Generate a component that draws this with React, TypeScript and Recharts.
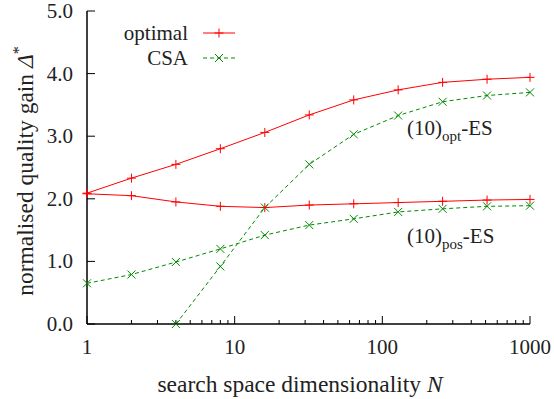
import React from 'react';
import { LineChart, Line, XAxis, YAxis } from 'recharts';

// search space dimensionality N and normalised quality gain values
const DIMS = [1, 2, 4, 8, 16, 32, 64, 128, 256, 512, 1000];
const OPT_OPTIMAL = [2.09, 2.33, 2.55, 2.8, 3.06, 3.34, 3.58, 3.74, 3.86, 3.91, 3.94];
const OPT_CSA_DIMS = [4, 8, 16, 32, 64, 128, 256, 512, 1000];
const OPT_CSA = [0.0, 0.92, 1.86, 2.55, 3.03, 3.33, 3.55, 3.65, 3.7];
const POS_OPTIMAL = [2.08, 2.05, 1.95, 1.88, 1.86, 1.9, 1.92, 1.94, 1.96, 1.98, 1.99];
const POS_CSA = [0.65, 0.79, 0.99, 1.2, 1.42, 1.58, 1.68, 1.79, 1.84, 1.88, 1.89];

const X_MAJOR = [1, 10, 100, 1000];
const X_MINOR_STEPS = [2, 3, 4, 5, 6, 7, 8, 9];
const Y_TICKS = [0, 1, 2, 3, 4, 5];

const RED = '#ff0000';
const GREEN = '#008a00';
const FONT = '"Liberation Serif", "DejaVu Serif", serif';
const FS = 21;
const TITLE_FS = 23.5;

const xTicks: number[] = [];
X_MAJOR.forEach((d, i) => {
  xTicks.push(d);
  if (i < X_MAJOR.length - 1) X_MINOR_STEPS.forEach((m) => xTicks.push(d * m));
});

const toRows = (xs: number[], ys: number[]) => xs.map((n, i) => ({ n, g: ys[i] }));

const optOptimal = toRows(DIMS, OPT_OPTIMAL);
const optCsa = toRows(OPT_CSA_DIMS, OPT_CSA);
const posOptimal = toRows(DIMS, POS_OPTIMAL);
const posCsa = toRows(DIMS, POS_CSA);

const PlusDot = (props: any) => {
  const { cx, cy } = props;
  if (cx == null || cy == null) return null;
  return <path d={`M${cx - 4.5},${cy}H${cx + 4.5}M${cx},${cy - 4.5}V${cy + 4.5}`} stroke={RED} strokeWidth={1} fill="none" />;
};

const CrossDot = (props: any) => {
  const { cx, cy } = props;
  if (cx == null || cy == null) return null;
  return <path d={`M${cx - 4},${cy - 4}L${cx + 4},${cy + 4}M${cx + 4},${cy - 4}L${cx - 4},${cy + 4}`} stroke={GREEN} strokeWidth={1} fill="none" />;
};

const BottomTick = (props: any) => {
  const { x, y, payload } = props;
  const major = X_MAJOR.includes(payload.value);
  return (
    <g>
      <line x1={x} x2={x} y1={y} y2={y - (major ? 8 : 4)} stroke="#000" />
      {major && (
        <text x={x} y={y + 30} textAnchor="middle" fontFamily={FONT} fontSize={FS} fill="#222">
          {payload.value}
        </text>
      )}
    </g>
  );
};

const TopTick = (props: any) => {
  const { x, y, payload } = props;
  const major = X_MAJOR.includes(payload.value);
  return <line x1={x} x2={x} y1={y} y2={y + (major ? 8 : 4)} stroke="#000" />;
};

const LeftTick = (props: any) => {
  const { x, y, payload } = props;
  return (
    <g>
      <line x1={x} x2={x + 8} y1={y} y2={y} stroke="#000" />
      <text x={x - 14} y={y + 7} textAnchor="end" fontFamily={FONT} fontSize={FS} fill="#222">
        {payload.value.toFixed(1)}
      </text>
    </g>
  );
};

const RightTick = (props: any) => {
  const { x, y } = props;
  return <line x1={x} x2={x - 8} y1={y} y2={y} stroke="#000" />;
};

const App: React.FC = () => {
  return (
    <div style={{ position: 'absolute', left: 0, top: 0, width: 554, height: 399, background: '#fff' }}>
      <LineChart width={554} height={399} margin={{ top: 11, right: 24, left: 0, bottom: 0 }}>
        <XAxis
          dataKey="n"
          type="number"
          scale="log"
          domain={[1, 1000]}
          ticks={xTicks}
          interval={0}
          height={75}
          tickSize={0}
          tickMargin={0}
          tick={<BottomTick />}
          axisLine={{ stroke: '#000', strokeWidth: 1.5 }}
        />
        <XAxis
          xAxisId="top"
          orientation="top"
          dataKey="n"
          type="number"
          scale="log"
          domain={[1, 1000]}
          ticks={xTicks}
          interval={0}
          height={0}
          tickSize={0}
          tickMargin={0}
          tick={<TopTick />}
          axisLine={{ stroke: '#000', strokeWidth: 1.5 }}
        />
        <YAxis
          type="number"
          domain={[0, 5]}
          ticks={Y_TICKS}
          interval={0}
          width={87}
          tickSize={0}
          tickMargin={0}
          tick={<LeftTick />}
          axisLine={{ stroke: '#000', strokeWidth: 1.5 }}
        />
        <YAxis
          yAxisId="right"
          orientation="right"
          type="number"
          domain={[0, 5]}
          ticks={Y_TICKS}
          interval={0}
          width={0}
          tickSize={0}
          tickMargin={0}
          tick={<RightTick />}
          axisLine={{ stroke: '#000', strokeWidth: 1.5 }}
        />
        <Line data={posCsa} dataKey="g" stroke={GREEN} strokeDasharray="4 3" strokeWidth={1} dot={<CrossDot />} isAnimationActive={false} />
        <Line data={optCsa} dataKey="g" stroke={GREEN} strokeDasharray="4 3" strokeWidth={1} dot={<CrossDot />} isAnimationActive={false} />
        <Line data={posOptimal} dataKey="g" stroke={RED} strokeWidth={1} dot={<PlusDot />} isAnimationActive={false} />
        <Line data={optOptimal} dataKey="g" stroke={RED} strokeWidth={1} dot={<PlusDot />} isAnimationActive={false} />
      </LineChart>
      <svg width={554} height={399} style={{ position: 'absolute', left: 0, top: 0, pointerEvents: 'none' }} fontFamily={FONT} fill="#222">
        {/* legend */}
        <text x={188} y={40} fontSize={FS} textAnchor="end">optimal</text>
        <line x1={203} x2={235} y1={33} y2={33} stroke={RED} />
        <PlusDot cx={219} cy={33} />
        <text x={188} y={65} fontSize={FS} textAnchor="end">CSA</text>
        <line x1={203} x2={235} y1={58} y2={58} stroke={GREEN} strokeDasharray="4 3" />
        <CrossDot cx={219} cy={58} />
        {/* curve labels */}
        <text x={407} y={135} fontSize={FS}>
          (10)<tspan fontSize={15} dy={6}>opt</tspan><tspan dy={-6}>-ES</tspan>
        </text>
        <text x={407} y={243} fontSize={FS}>
          (10)<tspan fontSize={15} dy={6}>pos</tspan><tspan dy={-6}>-ES</tspan>
        </text>
        {/* axis titles */}
        <text x={300} y={392} fontSize={TITLE_FS} textAnchor="middle">
          search space dimensionality <tspan fontStyle="italic">N</tspan>
        </text>
        <text x={33} y={171} fontSize={TITLE_FS} textAnchor="middle" transform="rotate(-90 33 171)">
          normalised quality gain <tspan fontStyle="italic">Δ</tspan><tspan fontSize={16} dy={-9}>*</tspan>
        </text>
      </svg>
    </div>
  );
};

export default App;
